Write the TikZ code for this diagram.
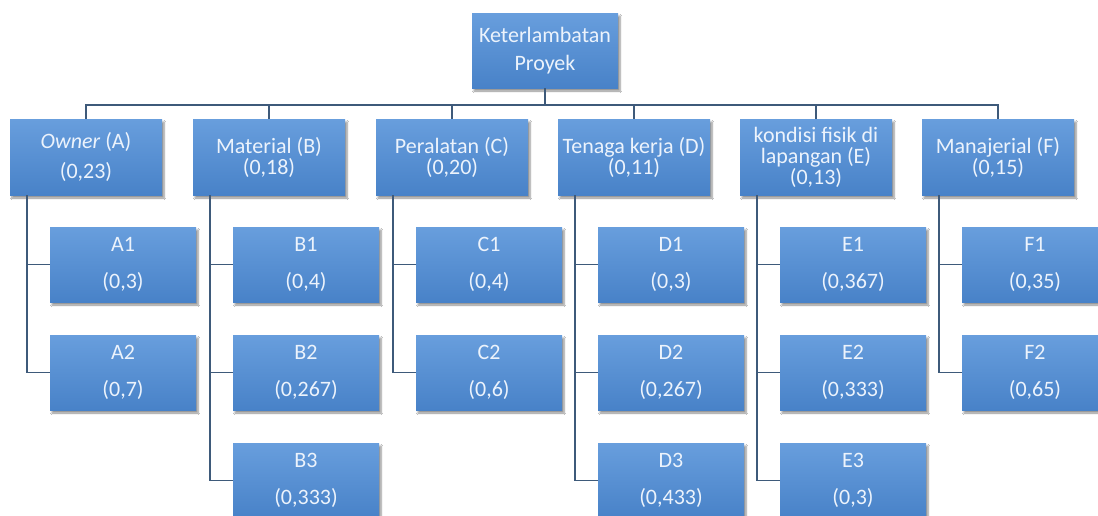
\documentclass[tikz,border=0pt]{standalone}
\usepackage{fontspec}
\setmainfont{Carlito}
\usetikzlibrary{shadows.blur}
\definecolor{boxtop}{RGB}{104,158,221}
\definecolor{boxbot}{RGB}{72,130,200}
\definecolor{txt}{RGB}{236,243,252}
\definecolor{linec}{RGB}{62,90,122}
\tikzset{
  box/.style={rectangle, inner sep=0pt, top color=boxtop, bottom color=boxbot,
    text=txt, align=center,
    blur shadow={shadow blur steps=6, shadow xshift=2pt, shadow yshift=-3pt, shadow opacity=45}},
  topbox/.style={box, minimum width=146pt, minimum height=75pt, font=\fontsize{22}{28}\selectfont},
  lvlbox/.style={box, minimum width=152pt, minimum height=76pt, font=\fontsize{22}{21}\selectfont},
  wideline/.style={font=\fontsize{22}{30}\selectfont},
  leafbox/.style={box, minimum width=146pt, minimum height=75pt, font=\fontsize{22}{37}\selectfont},
  conn/.style={draw=linec, line width=1.8pt}
}
\begin{document}
\begin{tikzpicture}[x=1pt,y=-1pt]
\useasboundingbox (0,0) rectangle (1098,515);
\fill[white] (0,0) rectangle (1098,515);
% top
\node[topbox] (top) at (545,50.5) {Keterlambatan\\Proyek};
% level 1
\node[lvlbox, wideline] (A) at (86,157) {\textit{Owner} (A)\\(0,23)};
\node[lvlbox] (B) at (269,157) {Material (B)\\(0,18)};
\node[lvlbox] (C) at (452,157) {Peralatan (C)\\(0,20)};
\node[lvlbox] (D) at (634,157) {Tenaga kerja (D)\\(0,11)};
\node[lvlbox] (E) at (816,157) {kondisi fisik di\\lapangan (E)\\(0,13)};
\node[lvlbox] (F) at (998,157) {Manajerial (F)\\(0,15)};
% leaves
\node[leafbox] (A1) at (123,264.5) {A1\\(0,3)};
\node[leafbox] (A2) at (123,372.5) {A2\\(0,7)};
\node[leafbox] (B1) at (306,264.5) {B1\\(0,4)};
\node[leafbox] (B2) at (306,372.5) {B2\\(0,267)};
\node[leafbox] (B3) at (306,480.5) {B3\\(0,333)};
\node[leafbox] (C1) at (489,264.5) {C1\\(0,4)};
\node[leafbox] (C2) at (489,372.5) {C2\\(0,6)};
\node[leafbox] (D1) at (671,264.5) {D1\\(0,3)};
\node[leafbox] (D2) at (671,372.5) {D2\\(0,267)};
\node[leafbox] (D3) at (671,480.5) {D3\\(0,433)};
\node[leafbox] (E1) at (853,264.5) {E1\\(0,367)};
\node[leafbox] (E2) at (853,372.5) {E2\\(0,333)};
\node[leafbox] (E3) at (853,480.5) {E3\\(0,3)};
\node[leafbox] (F1) at (1035,264.5) {F1\\(0,35)};
\node[leafbox] (F2) at (1035,372.5) {F2\\(0,65)};
% connectors top
\begin{scope}[on background layer/.try]
\foreach \n in {A,B,C,D,E,F}{
  \draw[conn] (top.south) -- ++(0,17) -| (\n.north);
}
\foreach \p/\c in {A/A1,A/A2,B/B1,B/B2,B/B3,C/C1,C/C2,D/D1,D/D2,D/D3,E/E1,E/E2,E/E3,F/F1,F/F2}{
  \draw[conn] ([xshift=17pt]\p.south west) |- (\c.west);
}
\end{scope}
\end{tikzpicture}
\end{document}
